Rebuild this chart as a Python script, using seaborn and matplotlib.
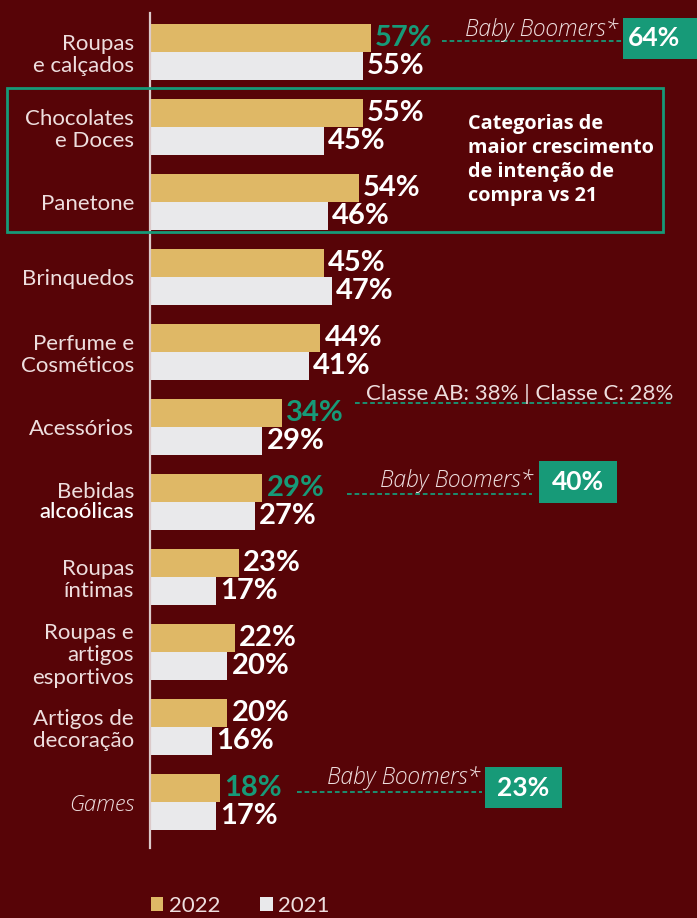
import matplotlib
matplotlib.use("Agg")
import matplotlib.pyplot as plt
from matplotlib.patches import Rectangle
from matplotlib.lines import Line2D
import pandas as pd
import seaborn as sns

# ---- data -------------------------------------------------------------
categories = [
    "Roupas\ne calçados",
    "Chocolates\ne Doces",
    "Panetone",
    "Brinquedos",
    "Perfume e\nCosméticos",
    "Acessórios",
    "Bebidas\nalcoólicas",
    "Roupas\níntimas",
    "Roupas e\nartigos\nesportivos",
    "Artigos de\ndecoração",
    "Games",
]
values_2022 = [57, 55, 54, 45, 44, 34, 29, 23, 22, 20, 18]
values_2021 = [55, 45, 46, 47, 41, 29, 27, 17, 20, 16, 17]
years = ["2022", "2021"]

# 2022 values printed in green (segments with a callout)
highlighted_2022 = ["Roupas\ne calçados", "Acessórios", "Bebidas\nalcoólicas", "Games"]

callout_texts = ["Baby Boomers*", "Classe AB: 38% | Classe C: 28%",
                 "Baby Boomers*", "Baby Boomers*"]
callout_values = ["64%", None, "40%", "23%"]

box_text = "Categorias de\nmaior crescimento\nde intenção de\ncompra vs 21"

# ---- style ------------------------------------------------------------
BG = "#570407"
GOLD = "#dfb866"
GRAY = "#e9e9eb"
GREEN = "#179a78"
TXT = "#eedede"

W, H = 697, 918
def fx(px):
    return px / W
def fy(py):
    return 1 - py / H

sns.set_theme(style="white")
plt.rcParams["font.family"] = ["Lato", "DejaVu Sans"]

df = pd.DataFrame({
    "categoria": categories * 2,
    "ano": [years[0]] * len(categories) + [years[1]] * len(categories),
    "pct": values_2022 + values_2021,
})

fig = plt.figure(figsize=(W / 100, H / 100), dpi=100, facecolor=BG)
ax = fig.add_axes([fx(150), fy(848), fx(697) - fx(150), fy(13) - fy(848)])
ax.set_facecolor(BG)

sns.barplot(data=df, y="categoria", x="pct", hue="ano", hue_order=years,
            order=categories, palette=[GOLD, GRAY], saturation=1,
            width=0.735, linewidth=0, orient="h", ax=ax)

ax.set_xlim(0, 141.3)
ax.set_ylim(10.613, -0.52)
ax.set_xlabel("")
ax.set_ylabel("")
ax.set_xticks([])

for side in ["top", "right", "bottom"]:
    ax.spines[side].set_visible(False)
ax.spines["left"].set_color("#dccaca")
ax.spines["left"].set_linewidth(1.6)

# category labels
ax.set_yticks(range(len(categories)))
ax.set_yticklabels([("" if c.startswith("Bebidas") else c) for c in categories])
ax.tick_params(axis="y", length=0, pad=11.5, labelsize=16, labelcolor=TXT)
for t in ax.get_yticklabels():
    t.set_linespacing(1.15)
    if t.get_text() == "Games":
        t.set_fontstyle("italic")
        t.set_fontweight("light")
        t.set_family(["Open Sans", "DejaVu Sans"])
        t.set_fontsize(16)

bi = categories.index("Bebidas\nalcoólicas")
first, second = categories[bi].split("\n")
ax.annotate(first, xy=(0, bi), xycoords=("axes fraction", "data"),
            xytext=(-11.5, 7), textcoords="offset points",
            ha="right", va="center", fontsize=16, color=TXT)
ax.annotate(second, xy=(0, bi), xycoords=("axes fraction", "data"),
            xytext=(-11.5, -7), textcoords="offset points",
            ha="right", va="center", fontsize=16, color="white",
            fontweight="medium")

# value labels
for year, cont in zip(years, ax.containers):
    vals = [p.get_width() for p in cont]
    texts = ax.bar_label(cont, labels=[f"{v:.0f}%" for v in vals], padding=3,
                         fontsize=21, fontweight="bold", color="white")
    if year == "2022":
        for cat, t in zip(categories, texts):
            if cat in highlighted_2022:
                t.set_color(GREEN)

# callouts
dash = (0, (2.6, 1.6))
callout_geo = [
    # text right x, text baseline y, line x0, line x1, line y, box (x0, y0, x1, y1)
    (618, 36, 442, 622, 41, (623, 18, 697, 59)),
    (673, 400, 355, 673, 403, None),
    (533, 487, 347, 532, 494, (539, 461, 617, 503)),
    (480, 784, 297, 482, 792, (485, 767, 562, 808)),
]
for text, val, (tx, ty, lx0, lx1, ly, box) in zip(callout_texts, callout_values, callout_geo):
    italic = val is not None
    fig.text(fx(tx), fy(ty), text, ha="right", va="baseline",
             fontsize=16.5 if italic else 16, color=TXT,
             fontstyle="italic" if italic else "normal",
             fontweight="light" if italic else "normal",
             family=["Open Sans", "DejaVu Sans"] if italic else ["Lato", "DejaVu Sans"])
    fig.add_artist(Line2D([fx(lx0), fx(lx1)], [fy(ly), fy(ly)], color=GREEN,
                          lw=1.3, linestyle=dash, transform=fig.transFigure))
    if box is not None:
        x0, y0, x1, y1 = box
        fig.add_artist(Rectangle((fx(x0), fy(y1)), fx(x1) - fx(x0), fy(y0) - fy(y1),
                                 transform=fig.transFigure, facecolor=GREEN,
                                 edgecolor="none"))
        fig.text(fx((x0 + min(x1, 685)) / 2), fy((y0 + y1) / 2), val, ha="center",
                 va="center", fontsize=19, fontweight="bold", color="white")

# highlight frame around the fastest-growing categories
fig.add_artist(Rectangle((fx(7), fy(232)), fx(663) - fx(7), fy(88) - fy(232),
                         transform=fig.transFigure, fill=False,
                         edgecolor=GREEN, lw=2.0, zorder=5))
fig.text(fx(468), fy(160), box_text, ha="left", va="center", fontsize=14.3,
         fontweight="bold", color="white", linespacing=1.25,
         family=["Open Sans", "DejaVu Sans"])

# legend
sns.move_legend(ax, "center left", bbox_to_anchor=(fx(151), fy(906)),
                bbox_transform=fig.transFigure, ncol=2, frameon=False,
                title=None, fontsize=16, handlelength=0.55, handleheight=0.55,
                handletextpad=0.25, columnspacing=1.8, borderpad=0,
                borderaxespad=0)
leg = ax.get_legend()
for t in leg.get_texts():
    t.set_color(TXT)

fig.savefig("out.png", dpi=100, facecolor=BG)
